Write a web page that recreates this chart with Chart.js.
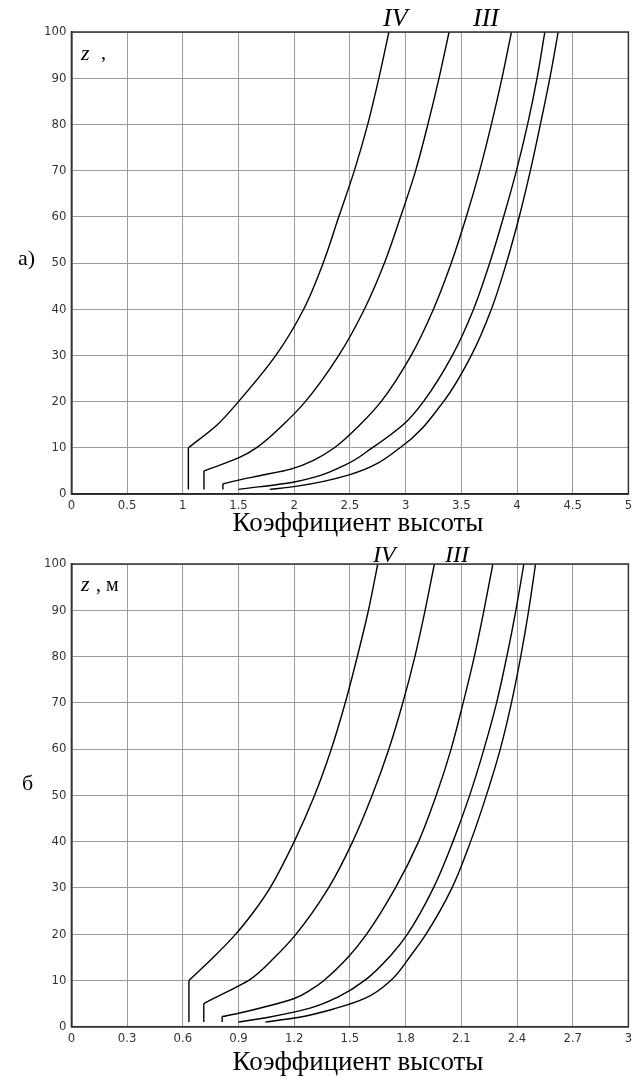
<!DOCTYPE html>
<html>
<head>
<meta charset="utf-8">
<script src="https://cdn.jsdelivr.net/npm/chart.js@4.4.1/dist/chart.umd.min.js"></script>
<style>
  html, body { margin: 0; padding: 0; background: #fff; }
  #page { position: relative; width: 635px; height: 1080px; overflow: hidden; background: #fff; }
  .box { position: absolute; left: 0; width: 635px; height: 540px; }
  .lbl { position: absolute; font-family: 'Liberation Serif', 'Times New Roman', serif; color: #000; white-space: nowrap; line-height: 1; }
  .it { font-style: italic; }
  .cap { width: 400px; text-align: center; font-size: 27px; }
</style>
</head>
<body>
<div id="page">
  <div class="box" style="top:0"><canvas id="chartA" width="635" height="540"></canvas></div>
  <div class="box" style="top:540px"><canvas id="chartB" width="635" height="540"></canvas></div>

  <div class="lbl" style="left:18px; top:247px; font-size:22px;">а)</div>
  <div class="lbl" style="left:22px; top:772px; font-size:22px;">б</div>

  <div class="lbl it" style="left:383px; top:5px; font-size:26px;">IV</div>
  <div class="lbl it" style="left:473px; top:5px; font-size:26px;">III</div>
  <div class="lbl it" style="left:373px; top:542px; font-size:24px;">IV</div>
  <div class="lbl it" style="left:445px; top:542px; font-size:24px;">III</div>

  <div class="lbl it" style="left:81px; top:42px; font-size:22px;">z</div>
  <div class="lbl" style="left:101px; top:42px; font-size:20px;">,</div>
  <div class="lbl it" style="left:81px; top:573px; font-size:22px;">z</div>
  <div class="lbl" style="left:96px; top:574px; font-size:20px;">, м</div>

  <div class="lbl cap" id="capA" style="left:158px; top:509px;"></div>
  <div class="lbl cap" id="capB" style="left:158px; top:1048px;"></div>
</div>

<script>
// ---------- tick labels ----------
const xTicksA = [0, 0.5, 1, 1.5, 2, 2.5, 3, 3.5, 4, 4.5, 5];
const xTicksB = [0, 0.3, 0.6, 0.9, 1.2, 1.5, 1.8, 2.1, 2.4, 2.7, 3];
const yTicks = [0, 10, 20, 30, 40, 50, 60, 70, 80, 90, 100];
const xTitle = 'Коэффициент высоты';

// ---------- chart а) : heights z (m) and height coefficients ----------
const zA1 = [1, 10, 15, 20, 30, 40, 50, 60, 70, 80, 90, 100];
const kA1 = [1.05, 1.05, 1.31, 1.50, 1.835, 2.085, 2.26, 2.40, 2.54, 2.66, 2.76, 2.85];
const zA2 = [1, 5, 7.8, 10, 15, 20, 30, 40, 50, 60, 70, 80, 90, 100];
const kA2 = [1.19, 1.19, 1.50, 1.66, 1.90, 2.10, 2.40, 2.63, 2.81, 2.955, 3.09, 3.20, 3.30, 3.39];
const zA3 = [1, 2.2, 3, 4, 5.4, 7.5, 10, 15, 20, 30, 40, 50, 60, 70, 80, 90, 100];
const kA3 = [1.36, 1.36, 1.50, 1.70, 1.97, 2.19, 2.36, 2.59, 2.78, 3.05, 3.25, 3.41, 3.545, 3.665, 3.77, 3.865, 3.95];
const zA4 = [1, 2.6, 6.2, 10, 15.5, 20, 30, 40, 50, 60, 70, 80, 90, 100];
const kA4 = [1.50, 2.00, 2.45, 2.70, 3.00, 3.16, 3.42, 3.61, 3.755, 3.88, 3.995, 4.095, 4.18, 4.25];
const zA5 = [1, 1.6, 4.2, 10, 20, 30, 40, 50, 60, 70, 80, 90, 100];
const kA5 = [1.78, 2.00, 2.50, 2.95, 3.34, 3.59, 3.77, 3.905, 4.02, 4.12, 4.21, 4.295, 4.37];

// ---------- chart б) ----------
const zB1 = [1, 10, 15, 20, 25, 30, 40, 50, 60, 70, 80, 90, 100];
const kB1 = [0.633, 0.633, 0.765, 0.885, 0.985, 1.07, 1.20, 1.31, 1.40, 1.475, 1.54, 1.60, 1.65];
const zB2 = [1, 5, 7, 8.5, 10, 15, 20, 30, 40, 50, 60, 70, 80, 90, 100];
const kB2 = [0.713, 0.713, 0.81, 0.885, 0.955, 1.095, 1.21, 1.385, 1.515, 1.62, 1.71, 1.785, 1.85, 1.905, 1.955];
const zB3 = [1, 2.2, 2.9, 4.2, 6.1, 8, 10, 15, 20, 30, 40, 50, 60, 70, 80, 90, 100];
const kB3 = [0.812, 0.812, 0.90, 1.034, 1.20, 1.29, 1.36, 1.49, 1.59, 1.745, 1.87, 1.965, 2.045, 2.11, 2.17, 2.222, 2.27];
const zB4 = [1, 2, 4, 6.5, 10, 15.5, 20, 30, 40, 50, 60, 70, 80, 90, 100];
const kB4 = [0.899, 1.056, 1.285, 1.44, 1.58, 1.722, 1.81, 1.95, 2.055, 2.145, 2.222, 2.29, 2.345, 2.394, 2.437];
const zB5 = [1, 2, 4, 6.1, 10, 15.5, 20, 30, 40, 50, 60, 70, 80, 90, 100];
const kB5 = [1.045, 1.22, 1.427, 1.58, 1.72, 1.83, 1.91, 2.05, 2.15, 2.235, 2.31, 2.37, 2.42, 2.463, 2.50];

document.getElementById('capA').textContent = xTitle;
document.getElementById('capB').textContent = xTitle;

function makeDatasets(curves) {
  const out = [];
  curves.forEach(([z, k]) => {
    const pts = z.map((h, i) => ({ x: k[i], y: h }));
    let start = 0;
    if (k[0] === k[1]) {
      out.push({ data: pts.slice(0, 2), tension: 0 });
      start = 1;
    }
    out.push({ data: pts.slice(start), indexAxis: 'y', cubicInterpolationMode: 'monotone' });
  });
  return out.map(d => Object.assign(d, {
    showLine: true, borderColor: '#000', borderWidth: 1.4, pointRadius: 0,
    fill: false, borderCapStyle: 'butt', borderJoinStyle: 'round'
  }));
}

const framePlugin = {
  id: 'frame',
  afterDraw(chart) {
    const { ctx, chartArea: a } = chart;
    ctx.save();
    ctx.strokeStyle = '#333';
    ctx.lineWidth = 1.5;
    ctx.strokeRect(a.left, a.top, a.right - a.left, a.bottom - a.top);
    ctx.restore();
  }
};

const tickFont = { family: "'Liberation Sans Narrow', 'DejaVu Sans Condensed', sans-serif", size: 13 };

function makeChart(id, curves, xMax, xTicks, pad, xAxisHeight) {
  return new Chart(document.getElementById(id), {
    type: 'scatter',
    data: { datasets: makeDatasets(curves) },
    options: {
      responsive: false,
      animation: false,
      devicePixelRatio: 1,
      layout: { padding: pad },
      plugins: { legend: { display: false }, tooltip: { enabled: false } },
      scales: {
        x: {
          type: 'linear', min: 0, max: xMax,
          afterBuildTicks: s => { s.ticks = xTicks.map(v => ({ value: v })); },
          afterFit: s => { s.height = xAxisHeight; s.paddingLeft = 0; s.paddingRight = 0; },
          grid: { color: '#9a9a9a', lineWidth: 1, drawTicks: false },
          border: { display: true, color: '#000', width: 1.5 },
          ticks: { font: tickFont, color: '#333', padding: 4, maxRotation: 0, autoSkip: false,
                   callback: v => String(v) }
        },
        y: {
          type: 'linear', min: 0, max: 100,
          afterBuildTicks: s => { s.ticks = yTicks.map(v => ({ value: v })); },
          afterFit: s => { s.width = 71.4; s.paddingTop = 0; s.paddingBottom = 0; },
          grid: { color: '#9a9a9a', lineWidth: 1, drawTicks: false },
          border: { display: true, color: '#000', width: 1.5 },
          ticks: { font: tickFont, color: '#333', padding: 5, autoSkip: false,
                   callback: v => String(v) }
        }
      }
    },
    plugins: [framePlugin]
  });
}

makeChart('chartA',
  [[zA1, kA1], [zA2, kA2], [zA3, kA3], [zA4, kA4], [zA5, kA5]],
  5, xTicksA, { top: 32, right: 6.6, left: 0, bottom: 0 }, 46);

makeChart('chartB',
  [[zB1, kB1], [zB2, kB2], [zB3, kB3], [zB4, kB4], [zB5, kB5]],
  3, xTicksB, { top: 24, right: 6.6, left: 0, bottom: 0 }, 53.3);
</script>
</body>
</html>
